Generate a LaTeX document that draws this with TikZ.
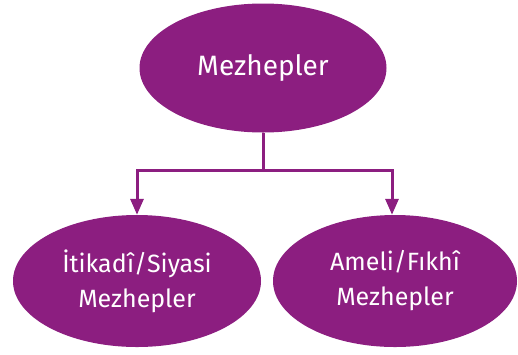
\documentclass[tikz,border=0pt]{standalone}
\usepackage{fontspec}
\setmainfont{Fira Sans}
\usetikzlibrary{shapes.geometric,arrows.meta}
\definecolor{mezhep}{RGB}{140,30,128}
\begin{document}
\begin{tikzpicture}[x=1pt,y=-1pt]
        \useasboundingbox (0,0) rectangle (518,354);

        \begin{scope}[every node/.style={ellipse,fill=mezhep,text=white,inner sep=0pt,align=center}]
          \node (top)   at (263,68)  [minimum width=247pt,minimum height=129pt,font=\fontsize{28}{30}\selectfont] {Mezhepler};
          \node (left)  at (137,281) [minimum width=248pt,minimum height=132pt,font=\fontsize{25}{35}\selectfont] {İtikadî/Siyasi\\Mezhepler};
          \node (right) at (395,281) [minimum width=244pt,minimum height=132pt,font=\fontsize{25}{35}\selectfont] {Ameli/Fıkhî\\Mezhepler};
        \end{scope}

        \coordinate (split) at (263,170);
        \coordinate (l) at (137,170);
        \coordinate (r) at (392,170);

        \begin{scope}[draw=mezhep,line width=3pt]
          \draw[mezhep] (top) -- (split);
          \draw[mezhep,line cap=rect] (l) -- (r);
          \draw[mezhep,-{Triangle[width=13pt,length=16pt]}] (l) -- (l |- left.north);
          \draw[mezhep,-{Triangle[width=13pt,length=16pt]}] (r) -- (r |- right.north);
        \end{scope}

      \end{tikzpicture}
\end{document}
